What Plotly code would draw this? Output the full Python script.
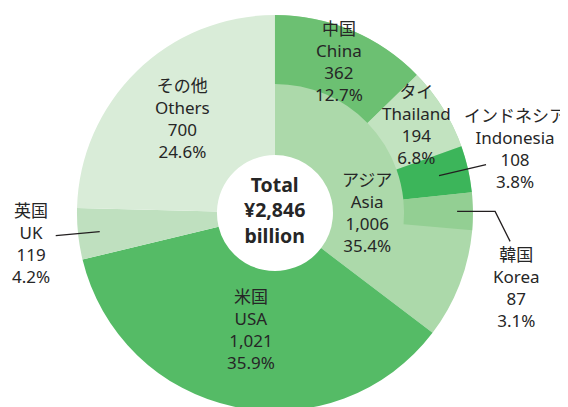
import math
import plotly.graph_objects as go

# ---------------- data ----------------
total_value = 2846
region_names = ["Asia", "USA", "UK", "Others"]
region_names_ja = ["アジア", "米国", "英国", "その他"]
region_values = [1006, 1021, 119, 700]
region_pcts = [35.4, 35.9, 4.2, 24.6]

asia_names = ["China", "Thailand", "Indonesia", "Korea"]
asia_names_ja = ["中国", "タイ", "インドネシア", "韓国"]
asia_values = [362, 194, 108, 87]
asia_pcts = [12.7, 6.8, 3.8, 3.1]

center_lines = ["Total", "¥2,846", "billion"]

# ---------------- styles ----------------
W, H = 568, 430          # figure size (page body adds an 8px margin)
OFF = 8                  # body margin of the html page
DOM_X = [0.118, 0.822]
DOM_Y = [0.0628, 0.9837]
HOLE_CENTER = 0.293
HOLE_OUTER = 0.652

C_ASIA = "#acd9aa"
region_colors = [C_ASIA, "#55bb66", "#bfe0bf", "#d9ecd8"]
asia_colors = ["#6cc072", "#c2e3c0", "#3cb55a", "#93cf93"]
TRANSPARENT = "rgba(0,0,0,0)"

FONT_FAMILY = "Noto Sans, Noto Sans CJK JP, sans-serif"
TEXT_COLOR = "#262626"
LABEL_SIZE = 17

asia_rest = region_values[0] - sum(asia_values)

fig = go.Figure()

# full-depth ring (hole -> outer edge)
fig.add_trace(go.Pie(
    values=region_values, labels=region_names,
    hole=HOLE_CENTER, sort=False, direction="clockwise", rotation=0,
    marker=dict(colors=region_colors, line=dict(width=0)),
    textinfo="none", hoverinfo="label+value+percent",
    domain=dict(x=DOM_X, y=DOM_Y), showlegend=False,
))

# outer ring: Asian countries over the Asia region
outer_values = asia_values + [asia_rest] + region_values[1:]
outer_labels = asia_names + ["Other Asia", "USA ", "UK ", "Others "]
outer_colors = asia_colors + [TRANSPARENT] * 4
fig.add_trace(go.Pie(
    values=outer_values, labels=outer_labels,
    hole=HOLE_OUTER, sort=False, direction="clockwise", rotation=0,
    marker=dict(colors=outer_colors, line=dict(width=0)),
    textinfo="none", hoverinfo="label+value",
    domain=dict(x=DOM_X, y=DOM_Y), showlegend=False,
))

# ---------------- geometry helpers (derived from data) ----------------
# pie centre / radius in page pixels
cx = OFF + W * (DOM_X[0] + DOM_X[1]) / 2
cy = OFF + H * (1 - (DOM_Y[0] + DOM_Y[1]) / 2)
R = min(W * (DOM_X[1] - DOM_X[0]), H * (DOM_Y[1] - DOM_Y[0])) / 2


def angle_of(cum_value):
    return 360.0 * cum_value / total_value


def polar(angle_deg, rfrac):
    a = math.radians(angle_deg)
    return cx + R * rfrac * math.sin(a), cy - R * rfrac * math.cos(a)


def paper(x, y):
    return (x - OFF) / W, 1 - (y - OFF) / H


def add_block(lines, x, y, size=LABEL_SIZE, bold=False):
    px, py = paper(x, y)
    txt = "<br>".join(f"<b>{t}</b>" if bold else t for t in lines)
    fig.add_annotation(
        x=px, y=py, xref="paper", yref="paper", text=txt,
        showarrow=False, xanchor="center", yanchor="middle", align="center",
        font=dict(family=FONT_FAMILY, size=size, color=TEXT_COLOR),
    )


def lines_for(ja, en, v, p):
    return [ja, en, f"{v:,}", f"{p}%"]


# cumulative positions
asia_cum = [sum(asia_values[:i]) for i in range(len(asia_values))]
region_cum = [sum(region_values[:i]) for i in range(len(region_values))]

# China, Thailand (inside outer ring)
for i, rf in [(0, 0.83), (1, 0.845)]:
    a = angle_of(asia_cum[i] + asia_values[i] / 2)
    x, y = polar(a, rf)
    add_block(lines_for(asia_names_ja[i], asia_names[i], asia_values[i], asia_pcts[i]), x, y)

# Asia (inner ring)
a = angle_of(asia_cum[3] + asia_values[3] / 2)
x, y = polar(a, 0.465)
add_block(lines_for(region_names_ja[0], region_names[0], region_values[0], region_pcts[0]), x, y)

# USA, Others (inside full ring)
for i, rf in [(1, 0.60), (3, 0.67)]:
    a = angle_of(region_cum[i] + region_values[i] / 2)
    x, y = polar(a, rf)
    add_block(lines_for(region_names_ja[i], region_names[i], region_values[i], region_pcts[i]), x, y)

# centre total
add_block(center_lines, cx, cy - 3, size=19.5, bold=True)

LINE_STYLE = dict(color="#231f20", width=1.3)


def leader(anchor, pts):
    ax, ay = paper(*anchor)
    path = "M0,0 " + " ".join(f"L{dx},{-dy}" for dx, dy in pts)
    fig.add_shape(type="path", path=path, xref="paper", yref="paper",
                  xsizemode="pixel", ysizemode="pixel", xanchor=ax, yanchor=ay,
                  line=LINE_STYLE)


# Indonesia (outside)
a = angle_of(asia_cum[2] + asia_values[2] / 2)
anc = polar(a, 0.85)
leader(anc, [(47, -11)])
add_block(lines_for(asia_names_ja[2], asia_names[2], asia_values[2], asia_pcts[2]),
          anc[0] + 76, anc[1] - 27)

# Korea (outside, elbow)
a = angle_of(asia_cum[3] + asia_values[3] / 2)
anc = polar(a, 0.92)
leader(anc, [(38, 0), (53, 30)])
add_block(lines_for(asia_names_ja[3], asia_names[3], asia_values[3], asia_pcts[3]),
          anc[0] + 59, anc[1] + 76)

# UK (outside)
a = angle_of(region_cum[2] + region_values[2] / 2)
anc = polar(a, 0.89)
leader(anc, [(-44, 4)])
add_block(lines_for(region_names_ja[2], region_names[2], region_values[2], region_pcts[2]),
          anc[0] - 68.5, anc[1] + 12)

fig.update_layout(
    width=W, height=H,
    margin=dict(l=0, r=0, t=0, b=0),
    paper_bgcolor="white", plot_bgcolor="white",
    showlegend=False,
)

fig.write_html("out.html")
